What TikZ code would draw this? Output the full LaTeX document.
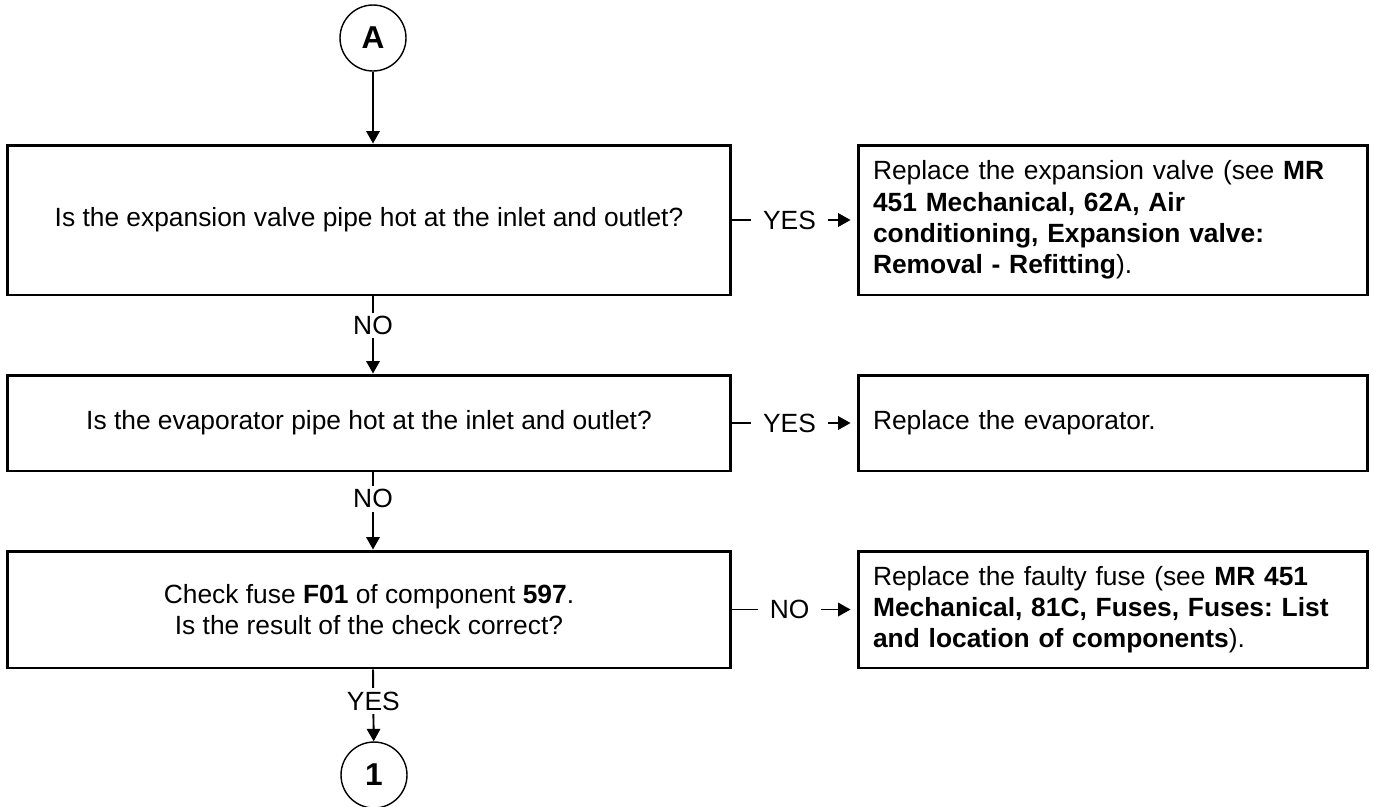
\documentclass[tikz,border=0pt]{standalone}
\usepackage{fontspec}
\setmainfont{Liberation Sans}
\usetikzlibrary{arrows.meta}
\frenchspacing

\begin{document}
\begin{tikzpicture}[x=0.02cm,y=-0.02cm,
	qbox/.style={draw, line width=1.7pt, minimum width=14.48cm, align=center, inner sep=0pt, font=\fontsize{15}{17.8}\selectfont},
	abox/.style={draw, line width=1.7pt, minimum width=10.2cm, text width=9.6cm, align=left, inner xsep=0.3cm, inner ysep=0pt, font=\fontsize{15}{17.8}\selectfont},
	circ/.style={draw, circle, line width=0.8pt, minimum size=1.32cm, inner sep=0pt, font=\fontsize{18}{20}\bfseries\selectfont},
	conn/.style={line width=1.1pt, -{Triangle[width=0.27cm,length=0.25cm]}},
	vlab/.style={fill=white, inner xsep=1pt, inner ysep=2pt, font=\fontsize{15}{17.8}\selectfont},
	hlab/.style={fill=white, inner xsep=0.24cm, inner ysep=2pt, font=\fontsize{15}{17.8}\selectfont}]
	
	\useasboundingbox (0,0) rectangle (1373,806);
	
	% kezdo es zaro kor
	\node[circ] (cA) at (373,38) {A};
	\node[circ] (c1) at (374,775) {1};
	
	% kerdesek
	\node[qbox, minimum height=3cm] (q1) at (369,220) {Is the expansion valve pipe hot at the inlet and outlet?};
	\node[qbox, minimum height=1.92cm] (q2) at (369,423) {Is the evaporator pipe hot at the inlet and outlet?};
	\node[qbox, minimum height=2.34cm] (q3) at (369,609.5) {Check fuse \textbf{F01} of component \textbf{597}.\\Is the result of the check correct?};
	
	% teendok
	\node[abox, minimum height=3cm] (a1) at (1113,220) {Replace the expansion valve (see \textbf{MR}\\\textbf{451 Mechanical, 62A, Air}\\\textbf{conditioning, Expansion valve:}\\\textbf{Removal - Refitting}).};
	\node[abox, minimum height=1.92cm] (a2) at (1113,423) {Replace the evaporator.};
	\node[abox, minimum height=2.34cm] (a3) at (1113,609.5) {Replace the faulty fuse (see \textbf{MR 451}\\\textbf{Mechanical, 81C, Fuses, Fuses: List}\\\textbf{and location of components}).};
	
	% fuggoleges nyilak
	\draw[conn] (cA) -- (q1.north -| cA);
	\draw[conn] (q1.south -| cA) -- node[vlab, pos=0.375] {NO} (q2.north -| cA);
	\draw[conn] (q2.south -| cA) -- node[vlab, pos=0.34] {NO} (q3.north -| cA);
	\draw[conn] (q3.south -| cA) -- node[vlab, pos=0.44] {YES} (c1);
	
	% vizszintes nyilak
	\draw[conn, shorten >=0.12cm] (q1.east) -- node[hlab, pos=0.46] {YES} (a1.west);
	\draw[conn, shorten >=0.12cm] (q2.east) -- node[hlab, pos=0.46] {YES} (a2.west);
	\draw[conn, shorten >=0.12cm] (q3.east) -- node[hlab, pos=0.46] {NO} (a3.west);
	
\end{tikzpicture}
\end{document}
